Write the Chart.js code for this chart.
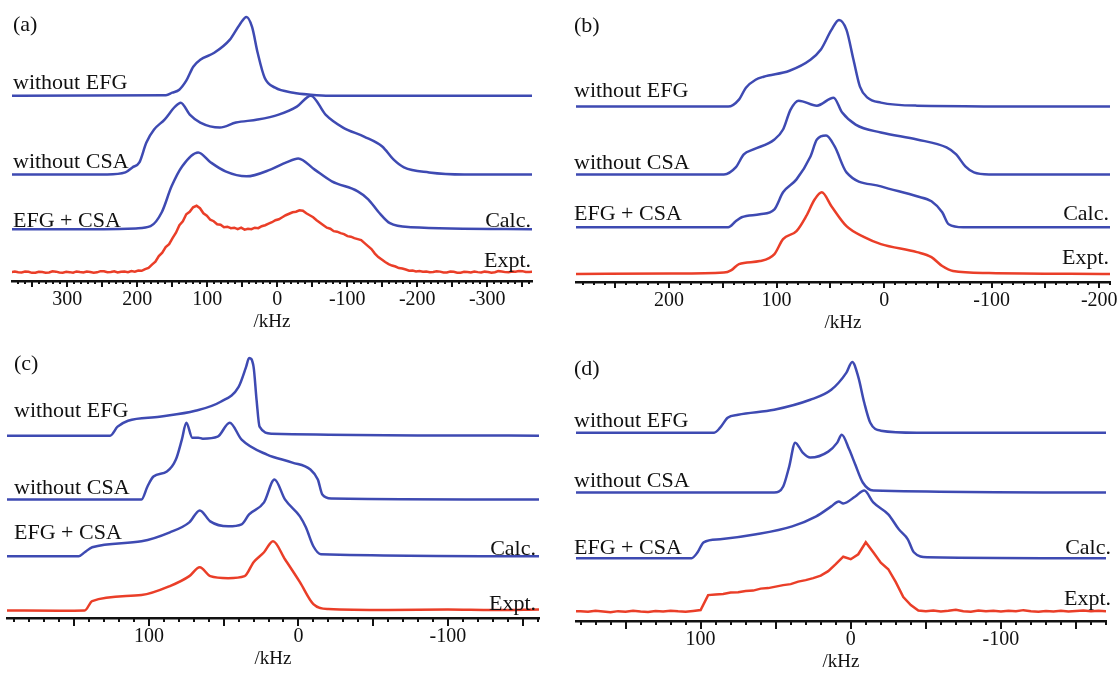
<!DOCTYPE html>
<html>
<head>
<meta charset="utf-8">
<script src="https://cdn.jsdelivr.net/npm/chart.js@4.4.1/dist/chart.umd.min.js"></script>
<style>
  body { margin: 0; background: #fff; }
  #wrap { position: relative; width: 1118px; height: 679px; overflow: hidden; }
  .panel { position: absolute; }
  .lbl { position: absolute; font-family: 'Liberation Serif', 'Times New Roman', serif; font-size: 22px;
         color: #111; line-height: 1; white-space: nowrap; transform: translateY(-50%); }
  .lbl.r { transform: translate(-100%, -50%); }
</style>
</head>
<body>
<div id="wrap"></div>
<script>
// ---- panel (a) ----  x in kHz, y = height above own baseline
var aEfgX = [379, 159, 150, 140, 130, 120, 110, 90, 68, 54, 44, 36, 28, 18, 3, -23, -48, -75, -364];
var aEfgY = [0, 0.5, 3, 6, 15, 29, 36, 43, 56, 71, 79, 69, 43, 18, 8, 3, 1, 0, 0];
var aCsaX = [379, 243, 217, 207, 197, 187, 176, 161, 146, 138, 125, 110, 82, 59, 28, -2, -28, -48, -69, -94, -124, -150, -166, -181, -217, -267, -364];
var aCsaY = [0, 0, 2, 7, 12, 32, 45, 55, 68, 72, 60, 52, 47, 52, 55, 60, 68, 79, 60, 47, 38, 28, 15, 7, 2, 0, 0];
var aCalcX = [379, 248, 202, 181, 165, 151, 136, 113, 95, 74, 44, 9, -13, -30, -53, -78, -115, -130, -145, -161, -191, -364];
var aCalcY = [0, 0, 0.8, 3, 17, 43, 63, 77, 67, 58, 53, 60, 67, 71, 60, 48, 38, 30, 17, 6, 2, 0];
// experimental trace sampled every 4.9 kHz from 379.9 downwards
var aExptStart = 379.9, aExptStep = -4.9;
var aExptY = [0.9, 1.5, 0.8, 0.5, 1.4, 1.2, 0.2, 0.3, 1.3, 1.0, 0.4, 0.6, 1.7, 1.4, 0.6, 0.4, 1.2, 0.9, 0.3, 1.6, 1.0,
  0.5, 1.5, 1.1, 0.4, 0.7, 1.9, 1.8, 0.8, 1.0, 1.7, 0.6, 1.2, 1.5, 0.9, 1.9, 1.4, 2.5, 2.2, 4.0, 5.2,
  8.5, 11.5, 17, 20.5, 26, 29, 35, 40.5, 48, 52, 59, 61.5, 66, 67.5, 65, 60, 57.5, 53.5, 52, 49,
  48.5, 46, 46.5, 45, 45.5, 44, 45.5, 43.5, 44.5, 44, 45.5, 45, 47, 48, 49.5, 51, 53, 54, 56, 58,
  59.5, 61, 61.5, 63, 62.5, 60, 58, 56, 53, 50.5, 48, 45.5, 44.5, 42, 41.5, 40, 39, 37, 36.5, 35,
  34, 33, 30, 27, 24, 19.5, 16, 13.5, 11, 9, 7.5, 6.5, 5, 4.5, 3.5, 2.3, 2.5, 1.6, 2.0, 1.2,
  1.5, 0.7, 1.0, 1.8, 1.4, 0.5, 0.6, 1.5, 1.2, 0.3, 0.4, 1.3, 1.0, 0.6, 1.5, 0.9, 0.5, 1.4, 1.1, 0.4,
  0.8, 1.9, 1.6, 0.9, 0.7, 1.5, 1.3, 2.1, 1.9, 1.0, 1.0, 1.2];
var aOffsets = [186, 107, 52, 8];

// ---- panel (b) ----
var bEfgX = [287, 145, 135, 128.5, 119.5, 112, 88, 68.5, 59, 49, 42, 35, 28.5, 22.5, 15.5, 3, -30.5, -210];
var bEfgY = [0, 0, 7, 19, 27, 30, 36, 47, 57, 77, 87, 77, 47, 20, 9, 4, 1, 0];
var bCsaX = [287, 149, 138, 130.5, 121.5, 102, 94, 87, 79.5, 62.5, 47, 39, 26.5, 3, -30.5, -58, -67, -75.5, -83.5, -97.5, -210];
var bCsaY = [0, 0, 7, 20, 25, 35, 45, 65, 74, 69, 77, 62, 50, 42, 35, 27, 20, 8, 2, 0, 0];
var bCalcX = [287, 145, 138, 132.5, 115.5, 102, 94, 81.5, 68.5, 62.5, 54, 46, 35, 3, -30.5, -44, -54, -60, -73.5, -210];
var bCalcY = [0, 0, 6, 10, 13, 18, 35, 48, 71, 88, 92, 81, 55, 41, 31, 26, 15, 3, 0, 0];
var bExptX = [287, 198, 149, 142, 135, 115.5, 102, 94, 81.5, 72.5, 64.5, 58, 49, 35, 18.5, 3, -30.5, -44, -54, -64, -97.5, -210];
var bExptY = [0, 0.5, 1.5, 4, 10, 13, 20, 35, 43, 58, 75, 82, 68, 48, 37, 30, 22, 17, 8, 3, 1, 0];
var bOffsets = [176, 108, 55, 8];

// ---- panel (c) ----
var cEfgX = [195, 126, 121, 114, 93, 69, 52, 40, 35, 33, 30, 28, 26, 18, -161];
var cEfgY = [0, 0, 9, 15, 19, 25, 34, 49, 69, 78, 69, 36, 9, 2, 0];
var cCsaX = [195, 105, 101, 97, 88, 82, 78, 75, 71, 67, 64, 54, 46, 38, 21, 4, -8, -13, -16, -22, -161];
var cCsaY = [0, 0, 13, 23, 28, 40, 60, 77, 62, 62, 61, 63, 77, 60, 45, 37, 30, 20, 5, 1, 0];
var cCalcX = [195, 147, 143, 138, 105, 86, 73, 66, 59, 47, 38, 33, 23, 16, 9, -1, -5, -10, -15, -161];
var cCalcY = [0, 0, 4, 9, 15, 24, 34, 46, 35, 30, 32, 42, 54, 77, 57, 40, 29, 10, 2, 0];
var cExptX = [195, 160, 143, 138, 105, 86, 73, 66, 59, 47, 36, 30, 23, 17, 9, -1, -10, -20, -60, -100, -130, -161];
var cExptY = [0.5, 0.3, 0.5, 10, 16, 25, 35, 44, 35, 33, 35, 49, 59, 70, 52, 29, 7, 2, 1, 1.5, 1, 1.5];
var cOffsets = [183, 119, 62, 7];

// ---- panel (d) ----
var dEfgX = [183, 91, 87, 82, 75, 51, 27, 13, 3, -1, -5, -9, -13, -20, -44, -170];
var dEfgY = [0, 0, 5, 15, 18, 23, 33, 43, 60, 71, 56, 30, 10, 2, 0, 0];
var dCsaX = [183, 51, 45, 41, 37, 32, 27, 15, 9, 6, 1, -3, -8, -15, -170];
var dCsaY = [0, 0, 6, 26, 50, 40, 35, 41, 50, 58, 43, 28, 10, 2, 0];
var dCalcX = [183, 106, 102, 98, 87, 63, 39, 23, 13, 8, 5, -3, -9, -15, -25, -32, -38, -42, -51, -170];
var dCalcY = [0, 0, 6, 16, 19, 24, 32, 42, 52, 57, 55, 62, 68, 56, 44, 29, 19, 6, 1, 0];
// experimental trace sampled every 5 kHz from 185 down to -170
var dExptStart = 185, dExptStep = -5;
var dExptY = [0.6, 0.8, 0.2, 1.2, 0.5, -0.2, 0.9, 0.4, 1.3, 0.6, 0.1, 1.0, 0.5, 1.4, 0.7, 0.3, 1.1, 2,
  17, 17.5, 18, 19.5, 19.8, 21, 21.5, 23.5, 24, 25.5, 27, 28, 30.5, 32, 34, 36.5, 41, 48, 55.5, 53, 58, 70, 60,
  49.5, 43, 30, 15, 7, 1.5,
  0.8, 1.6, 0.6, 1.2, 2.2, 0.9, 0.4, 1.5, 0.8, 1.3, 0.5, 1.4, 0.7, 1.9, 0.9, 0.4, 1.1, 0.6, 1.3, 0.5,
  1.0, 1.5, 0.7, 1.2, 0.8];
var dOffsets = [189, 129, 63, 9];

var blue = 'rgb(62, 74, 178)';
var red = 'rgb(234, 62, 40)';
var serif = "'Liberation Serif', 'Times New Roman', serif";

function gridX(start, step, n) {
  var xs = [];
  for (var i = 0; i < n; i++) xs.push(start + i * step);
  return xs;
}

function curve(xs, ys, off, color, smooth) {
  return {
    data: xs.map(function (x, i) { return { x: x, y: off + ys[i] }; }),
    borderColor: color,
    borderWidth: 2.5,
    pointRadius: 0,
    fill: false,
    cubicInterpolationMode: smooth ? 'monotone' : 'default',
    tension: 0
  };
}

// short and long tick marks under the axis line
var axisTicks = {
  id: 'axisTicks',
  afterDraw: function (chart, args, opts) {
    var s = chart.scales.x, ctx = chart.ctx, y0 = chart.chartArea.bottom;
    ctx.save();
    ctx.strokeStyle = '#111';
    ctx.lineWidth = 2;
    s.ticks.forEach(function (t) {
      var x = Math.round(s.getPixelForValue(t.value));
      var len = (t.value % 50 === 0) ? opts.major : opts.minor;
      ctx.beginPath();
      ctx.moveTo(x, y0);
      ctx.lineTo(x, y0 + len);
      ctx.stroke();
    });
    ctx.restore();
  }
};

var panels = [
  { left: 0, top: 0, width: 545, height: 334, padL: 12, padR: 13, min: -364, max: 379, yMax: 282, minor: 3, major: 6,
    datasets: [curve(aEfgX, aEfgY, aOffsets[0], blue, true), curve(aCsaX, aCsaY, aOffsets[1], blue, true),
               curve(aCalcX, aCalcY, aOffsets[2], blue, true),
               curve(gridX(aExptStart, aExptStep, aExptY.length), aExptY, aOffsets[3], red, false)] },
  { left: 560, top: 0, width: 558, height: 335, padL: 16, padR: 8, min: -210, max: 286.5, yMax: 283, minor: 3, major: 6,
    datasets: [curve(bEfgX, bEfgY, bOffsets[0], blue, true), curve(bCsaX, bCsaY, bOffsets[1], blue, true),
               curve(bCalcX, bCalcY, bOffsets[2], blue, true), curve(bExptX, bExptY, bOffsets[3], red, true)] },
  { left: 0, top: 340, width: 548, height: 331, padL: 7, padR: 9, min: -161, max: 195, yMax: 279, minor: 4, major: 8,
    datasets: [curve(cEfgX, cEfgY, cOffsets[0], blue, true), curve(cCsaX, cCsaY, cOffsets[1], blue, true),
               curve(cCalcX, cCalcY, cOffsets[2], blue, true), curve(cExptX, cExptY, cOffsets[3], red, true)] },
  { left: 560, top: 340, width: 558, height: 334, padL: 16, padR: 12, min: -170, max: 183, yMax: 282, minor: 4, major: 8,
    datasets: [curve(dEfgX, dEfgY, dOffsets[0], blue, true), curve(dCsaX, dCsaY, dOffsets[1], blue, true),
               curve(dCalcX, dCalcY, dOffsets[2], blue, true),
               curve(gridX(dExptStart, dExptStep, dExptY.length), dExptY, dOffsets[3], red, false)] }
];

// annotation text: [text, x, y, rightAligned]
var labels = [
  ['(a)', 13, 24, false], ['without EFG', 13, 82, false], ['without CSA', 13, 161, false], ['EFG + CSA', 13, 220, false],
  ['Calc.', 531, 220, true], ['Expt.', 531, 260, true],
  ['(b)', 574, 25, false], ['without EFG', 574, 90, false], ['without CSA', 574, 162, false], ['EFG + CSA', 574, 213, false],
  ['Calc.', 1109, 213, true], ['Expt.', 1109, 257, true],
  ['(c)', 14, 363, false], ['without EFG', 14, 410, false], ['without CSA', 14, 487, false], ['EFG + CSA', 14, 532, false],
  ['Calc.', 536, 548, true], ['Expt.', 536, 603, true],
  ['(d)', 574, 368, false], ['without EFG', 574, 420, false], ['without CSA', 574, 480, false], ['EFG + CSA', 574, 547, false],
  ['Calc.', 1111, 547, true], ['Expt.', 1111, 598, true]
];

document.addEventListener('DOMContentLoaded', function () {
  var wrap = document.getElementById('wrap');

  panels.forEach(function (p) {
    var box = document.createElement('div');
    box.className = 'panel';
    box.style.left = p.left + 'px';
    box.style.top = p.top + 'px';
    box.style.width = p.width + 'px';
    box.style.height = p.height + 'px';
    var cv = document.createElement('canvas');
    box.appendChild(cv);
    wrap.appendChild(box);

    new Chart(cv, {
      type: 'line',
      data: { datasets: p.datasets },
      options: {
        responsive: true,
        maintainAspectRatio: false,
        animation: false,
        layout: { padding: { left: p.padL, right: p.padR, top: 0, bottom: 0 } },
        plugins: {
          legend: { display: false },
          tooltip: { enabled: false },
          axisTicks: { minor: p.minor, major: p.major }
        },
        scales: {
          x: {
            type: 'linear',
            reverse: true,
            min: p.min,
            max: p.max,
            border: { display: true, color: '#111', width: 2.5 },
            grid: { display: true, drawOnChartArea: false, drawTicks: true, tickLength: 6, tickColor: 'rgba(0,0,0,0)' },
            ticks: {
              stepSize: 10,
              autoSkip: false,
              includeBounds: false,
              maxRotation: 0,
              padding: 3,
              color: '#111',
              font: { family: serif, size: 20, lineHeight: 1 },
              callback: function (v) { return v % 100 === 0 ? String(v) : ''; }
            },
            title: { display: true, text: '/kHz', color: '#111', font: { family: serif, size: 19, lineHeight: 1 }, padding: { top: 0, bottom: 2 } }
          },
          y: { display: false, min: 0, max: p.yMax }
        }
      },
      plugins: [axisTicks]
    });
  });

  labels.forEach(function (l) {
    var d = document.createElement('div');
    d.className = 'lbl' + (l[3] ? ' r' : '');
    d.textContent = l[0];
    d.style.left = l[1] + 'px';
    d.style.top = l[2] + 'px';
    wrap.appendChild(d);
  });
});
</script>
</body>
</html>
